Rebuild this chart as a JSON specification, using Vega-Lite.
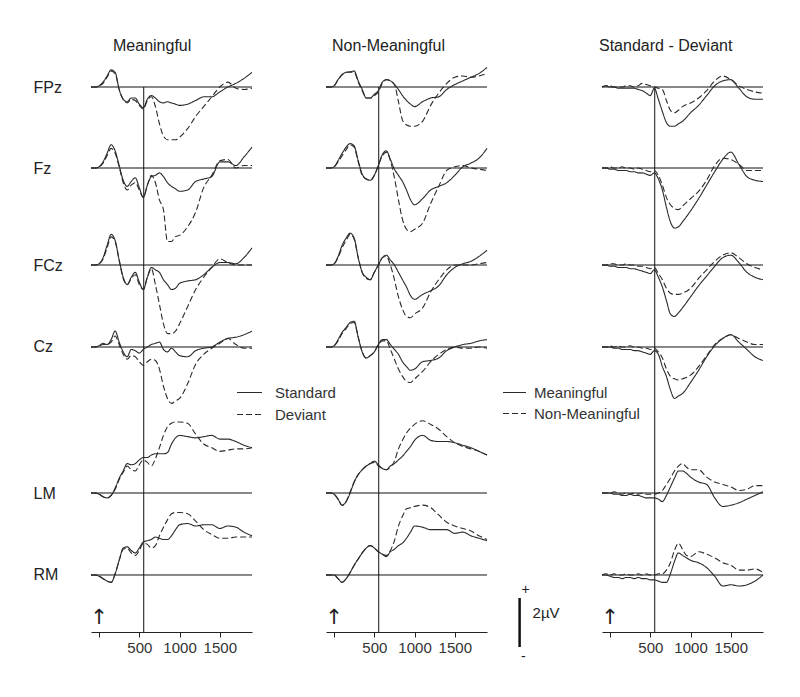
{
"$schema":"https://vega.github.io/schema/vega-lite/v6.json",
"padding":{"left":33,"top":38,"right":5,"bottom":5},
"background":"white",
"config":{"view":{"stroke":null},"font":"Liberation Sans","line":{"color":"#2a2a2a","strokeWidth":1.1,"interpolate":"monotone"},"rule":{"color":"#111"},
 "legend":{"title":null,"symbolType":"stroke","symbolStrokeWidth":1.1,"symbolStrokeColor":"#2a2a2a","labelFontSize":15,"labelColor":"#333","rowPadding":0},
 "axis":{"grid":false,"title":null}},
"datasets":{
"M_FPz":[{"t":-100,"Standard":0,"Deviant":0},{"t":-50,"Standard":0,"Deviant":0},{"t":0,"Standard":0.05,"Deviant":0.05},{"t":50,"Standard":0.2,"Deviant":0.15},{"t":100,"Standard":0.45,"Deviant":0.4},{"t":150,"Standard":0.7,"Deviant":0.65},{"t":200,"Standard":0.6,"Deviant":0.55},{"t":250,"Standard":-0.1,"Deviant":-0.1},{"t":300,"Standard":-0.5,"Deviant":-0.5},{"t":350,"Standard":-0.6,"Deviant":-0.65},{"t":400,"Standard":-0.45,"Deviant":-0.5},{"t":450,"Standard":-0.45,"Deviant":-0.55},{"t":500,"Standard":-0.7,"Deviant":-0.75},{"t":550,"Standard":-0.85,"Deviant":-0.9},{"t":600,"Standard":-0.5,"Deviant":-0.55},{"t":650,"Standard":-0.35,"Deviant":-0.4},{"t":700,"Standard":-0.45,"Deviant":-0.8},{"t":750,"Standard":-0.6,"Deviant":-1.5},{"t":800,"Standard":-0.65,"Deviant":-2.0},{"t":850,"Standard":-0.6,"Deviant":-2.15},{"t":900,"Standard":-0.65,"Deviant":-2.15},{"t":950,"Standard":-0.7,"Deviant":-2.15},{"t":1000,"Standard":-0.75,"Deviant":-2.05},{"t":1100,"Standard":-0.7,"Deviant":-1.7},{"t":1200,"Standard":-0.55,"Deviant":-1.2},{"t":1300,"Standard":-0.4,"Deviant":-0.8},{"t":1400,"Standard":-0.4,"Deviant":-0.4},{"t":1500,"Standard":-0.2,"Deviant":0.0},{"t":1600,"Standard":0.0,"Deviant":0.2},{"t":1700,"Standard":0.15,"Deviant":-0.05},{"t":1800,"Standard":0.35,"Deviant":-0.1},{"t":1900,"Standard":0.6,"Deviant":-0.05}],
"M_Fz":[{"t":-100,"Standard":0,"Deviant":0},{"t":-50,"Standard":0,"Deviant":0},{"t":0,"Standard":0.05,"Deviant":0.05},{"t":50,"Standard":0.25,"Deviant":0.2},{"t":100,"Standard":0.6,"Deviant":0.5},{"t":150,"Standard":0.95,"Deviant":0.8},{"t":200,"Standard":0.7,"Deviant":0.6},{"t":250,"Standard":0.1,"Deviant":0.05},{"t":300,"Standard":-0.5,"Deviant":-0.6},{"t":350,"Standard":-0.75,"Deviant":-0.9},{"t":400,"Standard":-0.55,"Deviant":-0.7},{"t":450,"Standard":-0.4,"Deviant":-0.6},{"t":500,"Standard":-0.8,"Deviant":-0.9},{"t":550,"Standard":-1.2,"Deviant":-1.2},{"t":600,"Standard":-0.7,"Deviant":-0.7},{"t":650,"Standard":-0.35,"Deviant":-0.3},{"t":700,"Standard":-0.3,"Deviant":-0.6},{"t":750,"Standard":-0.2,"Deviant":-1.3},{"t":800,"Standard":-0.35,"Deviant":-1.7},{"t":850,"Standard":-0.6,"Deviant":-3.0},{"t":900,"Standard":-0.75,"Deviant":-3.0},{"t":950,"Standard":-0.85,"Deviant":-2.8},{"t":1000,"Standard":-0.95,"Deviant":-2.75},{"t":1100,"Standard":-0.9,"Deviant":-2.4},{"t":1200,"Standard":-0.55,"Deviant":-1.8},{"t":1300,"Standard":-0.45,"Deviant":-0.8},{"t":1400,"Standard":-0.35,"Deviant":-0.3},{"t":1500,"Standard":0.25,"Deviant":0.3},{"t":1600,"Standard":0.25,"Deviant":0.35},{"t":1700,"Standard":0.1,"Deviant":0.0},{"t":1800,"Standard":0.45,"Deviant":0.1},{"t":1900,"Standard":0.85,"Deviant":0.1}],
"M_FCz":[{"t":-100,"Standard":0,"Deviant":0},{"t":-50,"Standard":0,"Deviant":0},{"t":0,"Standard":0.05,"Deviant":0.05},{"t":50,"Standard":0.3,"Deviant":0.25},{"t":100,"Standard":0.8,"Deviant":0.7},{"t":150,"Standard":1.25,"Deviant":1.15},{"t":200,"Standard":1.0,"Deviant":0.95},{"t":250,"Standard":0.2,"Deviant":0.2},{"t":300,"Standard":-0.5,"Deviant":-0.55},{"t":350,"Standard":-0.8,"Deviant":-0.8},{"t":400,"Standard":-0.5,"Deviant":-0.55},{"t":450,"Standard":-0.3,"Deviant":-0.4},{"t":500,"Standard":-0.7,"Deviant":-0.8},{"t":550,"Standard":-1.0,"Deviant":-1.0},{"t":600,"Standard":-0.5,"Deviant":-0.5},{"t":650,"Standard":-0.1,"Deviant":-0.15},{"t":700,"Standard":-0.2,"Deviant":-0.8},{"t":750,"Standard":-0.3,"Deviant":-1.6},{"t":800,"Standard":-0.6,"Deviant":-2.4},{"t":850,"Standard":-0.8,"Deviant":-2.8},{"t":900,"Standard":-1.0,"Deviant":-2.8},{"t":950,"Standard":-0.95,"Deviant":-2.7},{"t":1000,"Standard":-0.75,"Deviant":-2.4},{"t":1100,"Standard":-0.65,"Deviant":-1.7},{"t":1200,"Standard":-0.6,"Deviant":-1.0},{"t":1300,"Standard":-0.4,"Deviant":-0.5},{"t":1400,"Standard":-0.1,"Deviant":-0.1},{"t":1500,"Standard":0.1,"Deviant":0.25},{"t":1600,"Standard":0.1,"Deviant":0.1},{"t":1700,"Standard":0.05,"Deviant":0.0},{"t":1800,"Standard":0.3,"Deviant":0.0},{"t":1900,"Standard":0.7,"Deviant":0.0}],
"M_Cz":[{"t":-100,"Standard":0,"Deviant":0},{"t":-50,"Standard":0,"Deviant":0},{"t":0,"Standard":0.05,"Deviant":0.05},{"t":50,"Standard":0.15,"Deviant":0.1},{"t":100,"Standard":0.1,"Deviant":0.1},{"t":150,"Standard":0.3,"Deviant":0.2},{"t":200,"Standard":0.65,"Deviant":0.45},{"t":250,"Standard":0.2,"Deviant":0.1},{"t":300,"Standard":-0.2,"Deviant":-0.3},{"t":350,"Standard":-0.4,"Deviant":-0.5},{"t":400,"Standard":-0.1,"Deviant":-0.35},{"t":450,"Standard":-0.15,"Deviant":-0.4},{"t":500,"Standard":-0.25,"Deviant":-0.6},{"t":550,"Standard":-0.1,"Deviant":-0.75},{"t":600,"Standard":0.0,"Deviant":-0.6},{"t":650,"Standard":0.1,"Deviant":-0.5},{"t":700,"Standard":0.15,"Deviant":-0.55},{"t":750,"Standard":0.2,"Deviant":-0.9},{"t":800,"Standard":-0.1,"Deviant":-1.6},{"t":850,"Standard":-0.2,"Deviant":-2.1},{"t":900,"Standard":-0.05,"Deviant":-2.3},{"t":950,"Standard":-0.2,"Deviant":-2.2},{"t":1000,"Standard":-0.35,"Deviant":-2.1},{"t":1100,"Standard":-0.4,"Deviant":-1.5},{"t":1200,"Standard":-0.15,"Deviant":-0.7},{"t":1300,"Standard":-0.05,"Deviant":-0.3},{"t":1400,"Standard":0.0,"Deviant":-0.05},{"t":1500,"Standard":0.2,"Deviant":0.15},{"t":1600,"Standard":0.35,"Deviant":0.35},{"t":1700,"Standard":0.4,"Deviant":0.1},{"t":1800,"Standard":0.5,"Deviant":-0.05},{"t":1900,"Standard":0.65,"Deviant":-0.05}],
"M_LM":[{"t":-100,"Standard":0,"Deviant":0},{"t":-50,"Standard":0,"Deviant":0},{"t":0,"Standard":-0.05,"Deviant":-0.05},{"t":50,"Standard":-0.15,"Deviant":-0.15},{"t":100,"Standard":-0.2,"Deviant":-0.2},{"t":150,"Standard":-0.1,"Deviant":-0.1},{"t":200,"Standard":0.2,"Deviant":0.15},{"t":250,"Standard":0.6,"Deviant":0.55},{"t":300,"Standard":0.9,"Deviant":0.85},{"t":350,"Standard":1.2,"Deviant":1.1},{"t":400,"Standard":1.15,"Deviant":0.95},{"t":450,"Standard":1.2,"Deviant":0.9},{"t":500,"Standard":1.35,"Deviant":1.15},{"t":550,"Standard":1.45,"Deviant":1.35},{"t":600,"Standard":1.45,"Deviant":1.25},{"t":650,"Standard":1.55,"Deviant":1.1},{"t":700,"Standard":1.6,"Deviant":1.4},{"t":750,"Standard":1.6,"Deviant":1.85},{"t":800,"Standard":1.6,"Deviant":2.35},{"t":850,"Standard":1.65,"Deviant":2.7},{"t":900,"Standard":2.0,"Deviant":2.85},{"t":950,"Standard":2.25,"Deviant":2.9},{"t":1000,"Standard":2.35,"Deviant":2.9},{"t":1100,"Standard":2.3,"Deviant":2.85},{"t":1200,"Standard":2.25,"Deviant":2.4},{"t":1300,"Standard":2.3,"Deviant":2.0},{"t":1400,"Standard":2.35,"Deviant":1.85},{"t":1500,"Standard":2.2,"Deviant":1.7},{"t":1600,"Standard":2.2,"Deviant":1.75},{"t":1700,"Standard":2.1,"Deviant":1.8},{"t":1800,"Standard":1.95,"Deviant":1.8},{"t":1900,"Standard":1.85,"Deviant":1.85}],
"M_RM":[{"t":-100,"Standard":0,"Deviant":0},{"t":-50,"Standard":0,"Deviant":0},{"t":0,"Standard":-0.05,"Deviant":-0.05},{"t":50,"Standard":-0.15,"Deviant":-0.15},{"t":100,"Standard":-0.25,"Deviant":-0.25},{"t":150,"Standard":-0.3,"Deviant":-0.3},{"t":200,"Standard":0.05,"Deviant":0.05},{"t":250,"Standard":0.6,"Deviant":0.6},{"t":300,"Standard":1.1,"Deviant":1.05},{"t":350,"Standard":1.15,"Deviant":1.1},{"t":400,"Standard":1.0,"Deviant":0.9},{"t":450,"Standard":0.9,"Deviant":0.8},{"t":500,"Standard":1.1,"Deviant":1.0},{"t":550,"Standard":1.35,"Deviant":1.3},{"t":600,"Standard":1.4,"Deviant":1.25},{"t":650,"Standard":1.45,"Deviant":1.1},{"t":700,"Standard":1.55,"Deviant":1.2},{"t":750,"Standard":1.5,"Deviant":1.6},{"t":800,"Standard":1.45,"Deviant":1.95},{"t":850,"Standard":1.45,"Deviant":2.25},{"t":900,"Standard":1.6,"Deviant":2.5},{"t":950,"Standard":1.85,"Deviant":2.55},{"t":1000,"Standard":2.05,"Deviant":2.55},{"t":1100,"Standard":2.1,"Deviant":2.5},{"t":1200,"Standard":2.0,"Deviant":2.2},{"t":1300,"Standard":2.05,"Deviant":1.85},{"t":1400,"Standard":2.05,"Deviant":1.65},{"t":1500,"Standard":1.9,"Deviant":1.5},{"t":1600,"Standard":2.0,"Deviant":1.5},{"t":1700,"Standard":1.95,"Deviant":1.55},{"t":1800,"Standard":1.75,"Deviant":1.55},{"t":1900,"Standard":1.6,"Deviant":1.55}],
"N_FPz":[{"t":-100,"Standard":0,"Deviant":0},{"t":-50,"Standard":0,"Deviant":0},{"t":0,"Standard":0.05,"Deviant":0.05},{"t":50,"Standard":0.3,"Deviant":0.3},{"t":100,"Standard":0.5,"Deviant":0.5},{"t":150,"Standard":0.6,"Deviant":0.6},{"t":200,"Standard":0.62,"Deviant":0.6},{"t":250,"Standard":0.65,"Deviant":0.6},{"t":300,"Standard":0.25,"Deviant":0.2},{"t":350,"Standard":-0.1,"Deviant":-0.15},{"t":400,"Standard":-0.45,"Deviant":-0.45},{"t":450,"Standard":-0.45,"Deviant":-0.45},{"t":500,"Standard":-0.3,"Deviant":-0.35},{"t":550,"Standard":-0.15,"Deviant":-0.2},{"t":600,"Standard":0.2,"Deviant":0.15},{"t":650,"Standard":0.3,"Deviant":0.3},{"t":700,"Standard":0.25,"Deviant":0.25},{"t":750,"Standard":0.1,"Deviant":0.1},{"t":800,"Standard":-0.1,"Deviant":-0.6},{"t":850,"Standard":-0.35,"Deviant":-1.35},{"t":900,"Standard":-0.55,"Deviant":-1.55},{"t":950,"Standard":-0.7,"Deviant":-1.6},{"t":1000,"Standard":-0.8,"Deviant":-1.6},{"t":1100,"Standard":-0.6,"Deviant":-1.4},{"t":1200,"Standard":-0.45,"Deviant":-0.75},{"t":1300,"Standard":-0.4,"Deviant":-0.25},{"t":1400,"Standard":-0.1,"Deviant":0.15},{"t":1500,"Standard":0.1,"Deviant":0.4},{"t":1600,"Standard":0.25,"Deviant":0.45},{"t":1700,"Standard":0.4,"Deviant":0.4},{"t":1800,"Standard":0.55,"Deviant":0.45},{"t":1900,"Standard":0.8,"Deviant":0.55}],
"N_Fz":[{"t":-100,"Standard":0,"Deviant":0},{"t":-50,"Standard":0,"Deviant":0},{"t":0,"Standard":0.05,"Deviant":0.05},{"t":50,"Standard":0.3,"Deviant":0.25},{"t":100,"Standard":0.6,"Deviant":0.5},{"t":150,"Standard":0.85,"Deviant":0.75},{"t":200,"Standard":1.0,"Deviant":0.95},{"t":250,"Standard":0.9,"Deviant":0.85},{"t":300,"Standard":0.3,"Deviant":0.25},{"t":350,"Standard":-0.25,"Deviant":-0.3},{"t":400,"Standard":-0.45,"Deviant":-0.45},{"t":450,"Standard":-0.5,"Deviant":-0.5},{"t":500,"Standard":-0.3,"Deviant":-0.3},{"t":550,"Standard":0.1,"Deviant":0.1},{"t":600,"Standard":0.55,"Deviant":0.5},{"t":650,"Standard":0.7,"Deviant":0.65},{"t":700,"Standard":0.35,"Deviant":0.3},{"t":750,"Standard":-0.05,"Deviant":-0.4},{"t":800,"Standard":-0.3,"Deviant":-1.3},{"t":850,"Standard":-0.55,"Deviant":-2.1},{"t":900,"Standard":-0.9,"Deviant":-2.5},{"t":950,"Standard":-1.3,"Deviant":-2.6},{"t":1000,"Standard":-1.5,"Deviant":-2.5},{"t":1100,"Standard":-1.25,"Deviant":-2.25},{"t":1200,"Standard":-0.9,"Deviant":-1.45},{"t":1300,"Standard":-0.75,"Deviant":-0.75},{"t":1400,"Standard":-0.6,"Deviant":-0.1},{"t":1500,"Standard":-0.3,"Deviant":0.05},{"t":1600,"Standard":0.05,"Deviant":0.1},{"t":1700,"Standard":0.2,"Deviant":0.0},{"t":1800,"Standard":0.4,"Deviant":-0.05},{"t":1900,"Standard":0.8,"Deviant":-0.1}],
"N_FCz":[{"t":-100,"Standard":0,"Deviant":0},{"t":-50,"Standard":0,"Deviant":0},{"t":0,"Standard":0.05,"Deviant":0.05},{"t":50,"Standard":0.35,"Deviant":0.3},{"t":100,"Standard":0.8,"Deviant":0.7},{"t":150,"Standard":1.1,"Deviant":1.0},{"t":200,"Standard":1.3,"Deviant":1.25},{"t":250,"Standard":1.1,"Deviant":1.05},{"t":300,"Standard":0.3,"Deviant":0.3},{"t":350,"Standard":-0.3,"Deviant":-0.3},{"t":400,"Standard":-0.5,"Deviant":-0.55},{"t":450,"Standard":-0.6,"Deviant":-0.6},{"t":500,"Standard":-0.3,"Deviant":-0.3},{"t":550,"Standard":0.0,"Deviant":0.0},{"t":600,"Standard":0.3,"Deviant":0.3},{"t":650,"Standard":0.4,"Deviant":0.35},{"t":700,"Standard":0.2,"Deviant":0.0},{"t":750,"Standard":0.0,"Deviant":-0.6},{"t":800,"Standard":-0.3,"Deviant":-1.3},{"t":850,"Standard":-0.6,"Deviant":-1.8},{"t":900,"Standard":-0.9,"Deviant":-2.1},{"t":950,"Standard":-1.25,"Deviant":-2.15},{"t":1000,"Standard":-1.4,"Deviant":-2.0},{"t":1100,"Standard":-1.2,"Deviant":-1.75},{"t":1200,"Standard":-1.05,"Deviant":-1.1},{"t":1300,"Standard":-0.85,"Deviant":-0.6},{"t":1400,"Standard":-0.4,"Deviant":-0.2},{"t":1500,"Standard":-0.1,"Deviant":0.0},{"t":1600,"Standard":0.05,"Deviant":0.0},{"t":1700,"Standard":0.15,"Deviant":0.0},{"t":1800,"Standard":0.35,"Deviant":0.05},{"t":1900,"Standard":0.6,"Deviant":0.1}],
"N_Cz":[{"t":-100,"Standard":0,"Deviant":0},{"t":-50,"Standard":0,"Deviant":0},{"t":0,"Standard":0.05,"Deviant":0.05},{"t":50,"Standard":0.3,"Deviant":0.25},{"t":100,"Standard":0.6,"Deviant":0.55},{"t":150,"Standard":0.8,"Deviant":0.75},{"t":200,"Standard":1.0,"Deviant":0.95},{"t":250,"Standard":1.05,"Deviant":1.0},{"t":300,"Standard":0.4,"Deviant":0.4},{"t":350,"Standard":-0.2,"Deviant":-0.2},{"t":400,"Standard":-0.45,"Deviant":-0.45},{"t":450,"Standard":-0.35,"Deviant":-0.35},{"t":500,"Standard":-0.2,"Deviant":-0.2},{"t":550,"Standard":0.1,"Deviant":0.1},{"t":600,"Standard":0.3,"Deviant":0.25},{"t":650,"Standard":0.3,"Deviant":0.25},{"t":700,"Standard":0.1,"Deviant":-0.1},{"t":750,"Standard":-0.1,"Deviant":-0.5},{"t":800,"Standard":-0.3,"Deviant":-0.9},{"t":850,"Standard":-0.6,"Deviant":-1.2},{"t":900,"Standard":-0.8,"Deviant":-1.4},{"t":950,"Standard":-0.95,"Deviant":-1.45},{"t":1000,"Standard":-0.9,"Deviant":-1.3},{"t":1100,"Standard":-0.6,"Deviant":-1.0},{"t":1200,"Standard":-0.55,"Deviant":-0.6},{"t":1300,"Standard":-0.45,"Deviant":-0.3},{"t":1400,"Standard":-0.15,"Deviant":-0.1},{"t":1500,"Standard":0.0,"Deviant":0.0},{"t":1600,"Standard":0.1,"Deviant":-0.05},{"t":1700,"Standard":0.15,"Deviant":-0.05},{"t":1800,"Standard":0.25,"Deviant":0.0},{"t":1900,"Standard":0.3,"Deviant":-0.05}],
"N_LM":[{"t":-100,"Standard":0,"Deviant":0},{"t":-50,"Standard":0,"Deviant":0},{"t":0,"Standard":-0.05,"Deviant":-0.05},{"t":50,"Standard":-0.25,"Deviant":-0.25},{"t":100,"Standard":-0.5,"Deviant":-0.5},{"t":150,"Standard":-0.35,"Deviant":-0.35},{"t":200,"Standard":0.0,"Deviant":0.05},{"t":250,"Standard":0.45,"Deviant":0.45},{"t":300,"Standard":0.75,"Deviant":0.75},{"t":350,"Standard":0.95,"Deviant":0.95},{"t":400,"Standard":1.1,"Deviant":1.1},{"t":450,"Standard":1.2,"Deviant":1.2},{"t":500,"Standard":1.3,"Deviant":1.25},{"t":550,"Standard":1.15,"Deviant":1.1},{"t":600,"Standard":1.0,"Deviant":1.0},{"t":650,"Standard":0.95,"Deviant":0.95},{"t":700,"Standard":1.1,"Deviant":1.05},{"t":750,"Standard":1.2,"Deviant":1.3},{"t":800,"Standard":1.35,"Deviant":1.8},{"t":850,"Standard":1.5,"Deviant":2.15},{"t":900,"Standard":1.7,"Deviant":2.45},{"t":950,"Standard":1.9,"Deviant":2.65},{"t":1000,"Standard":2.15,"Deviant":2.8},{"t":1100,"Standard":2.35,"Deviant":2.95},{"t":1200,"Standard":2.15,"Deviant":2.8},{"t":1300,"Standard":2.1,"Deviant":2.6},{"t":1400,"Standard":2.1,"Deviant":2.3},{"t":1500,"Standard":2.05,"Deviant":2.05},{"t":1600,"Standard":1.95,"Deviant":1.9},{"t":1700,"Standard":1.85,"Deviant":1.8},{"t":1800,"Standard":1.7,"Deviant":1.7},{"t":1900,"Standard":1.55,"Deviant":1.55}],
"N_RM":[{"t":-100,"Standard":0,"Deviant":0},{"t":-50,"Standard":0,"Deviant":0},{"t":0,"Standard":0,"Deviant":0},{"t":50,"Standard":-0.15,"Deviant":-0.15},{"t":100,"Standard":-0.3,"Deviant":-0.3},{"t":150,"Standard":-0.15,"Deviant":-0.15},{"t":200,"Standard":0.1,"Deviant":0.1},{"t":250,"Standard":0.4,"Deviant":0.4},{"t":300,"Standard":0.65,"Deviant":0.65},{"t":350,"Standard":0.9,"Deviant":0.9},{"t":400,"Standard":1.1,"Deviant":1.1},{"t":450,"Standard":1.2,"Deviant":1.2},{"t":500,"Standard":1.1,"Deviant":1.1},{"t":550,"Standard":0.95,"Deviant":0.95},{"t":600,"Standard":0.85,"Deviant":0.85},{"t":650,"Standard":0.75,"Deviant":0.8},{"t":700,"Standard":0.95,"Deviant":1.0},{"t":750,"Standard":1.05,"Deviant":1.4},{"t":800,"Standard":1.2,"Deviant":2.0},{"t":850,"Standard":1.3,"Deviant":2.4},{"t":900,"Standard":1.5,"Deviant":2.7},{"t":950,"Standard":1.75,"Deviant":2.75},{"t":1000,"Standard":2.0,"Deviant":2.8},{"t":1100,"Standard":1.95,"Deviant":2.85},{"t":1200,"Standard":1.85,"Deviant":2.75},{"t":1300,"Standard":1.85,"Deviant":2.45},{"t":1400,"Standard":1.85,"Deviant":2.15},{"t":1500,"Standard":1.7,"Deviant":2.0},{"t":1600,"Standard":1.75,"Deviant":1.9},{"t":1700,"Standard":1.6,"Deviant":1.8},{"t":1800,"Standard":1.5,"Deviant":1.6},{"t":1900,"Standard":1.4,"Deviant":1.45}],
"D_FPz":[{"t":-100,"Meaningful":0,"Non-Meaningful":0},{"t":-50,"Meaningful":0.05,"Non-Meaningful":0.05},{"t":0,"Meaningful":0.0,"Non-Meaningful":0.05},{"t":50,"Meaningful":0.0,"Non-Meaningful":0.0},{"t":100,"Meaningful":-0.05,"Non-Meaningful":0.0},{"t":150,"Meaningful":-0.05,"Non-Meaningful":0.0},{"t":200,"Meaningful":-0.05,"Non-Meaningful":0.05},{"t":250,"Meaningful":-0.05,"Non-Meaningful":0.05},{"t":300,"Meaningful":-0.05,"Non-Meaningful":0.0},{"t":350,"Meaningful":-0.1,"Non-Meaningful":0.05},{"t":400,"Meaningful":-0.15,"Non-Meaningful":0.15},{"t":450,"Meaningful":-0.25,"Non-Meaningful":0.1},{"t":500,"Meaningful":-0.35,"Non-Meaningful":0.05},{"t":550,"Meaningful":-0.05,"Non-Meaningful":0.0},{"t":600,"Meaningful":-0.5,"Non-Meaningful":-0.05},{"t":650,"Meaningful":-1.0,"Non-Meaningful":-0.1},{"t":700,"Meaningful":-1.45,"Non-Meaningful":-0.55},{"t":750,"Meaningful":-1.6,"Non-Meaningful":-0.95},{"t":800,"Meaningful":-1.6,"Non-Meaningful":-1.05},{"t":850,"Meaningful":-1.5,"Non-Meaningful":-0.95},{"t":900,"Meaningful":-1.4,"Non-Meaningful":-0.8},{"t":1000,"Meaningful":-1.05,"Non-Meaningful":-0.65},{"t":1100,"Meaningful":-0.75,"Non-Meaningful":-0.45},{"t":1200,"Meaningful":-0.35,"Non-Meaningful":-0.15},{"t":1300,"Meaningful":0.05,"Non-Meaningful":0.25},{"t":1400,"Meaningful":0.25,"Non-Meaningful":0.45},{"t":1500,"Meaningful":0.3,"Non-Meaningful":0.3},{"t":1600,"Meaningful":-0.05,"Non-Meaningful":0.05},{"t":1700,"Meaningful":-0.4,"Non-Meaningful":-0.1},{"t":1800,"Meaningful":-0.5,"Non-Meaningful":-0.2},{"t":1900,"Meaningful":-0.5,"Non-Meaningful":-0.25}],
"D_Fz":[{"t":-100,"Meaningful":0,"Non-Meaningful":0},{"t":-50,"Meaningful":0,"Non-Meaningful":0},{"t":0,"Meaningful":-0.05,"Non-Meaningful":0.05},{"t":50,"Meaningful":-0.05,"Non-Meaningful":0.0},{"t":100,"Meaningful":-0.1,"Non-Meaningful":0.0},{"t":150,"Meaningful":-0.1,"Non-Meaningful":0.05},{"t":200,"Meaningful":-0.1,"Non-Meaningful":0.0},{"t":250,"Meaningful":-0.15,"Non-Meaningful":0.0},{"t":300,"Meaningful":-0.15,"Non-Meaningful":-0.05},{"t":350,"Meaningful":-0.2,"Non-Meaningful":0.0},{"t":400,"Meaningful":-0.2,"Non-Meaningful":-0.05},{"t":450,"Meaningful":-0.25,"Non-Meaningful":-0.1},{"t":500,"Meaningful":-0.3,"Non-Meaningful":-0.15},{"t":550,"Meaningful":-0.2,"Non-Meaningful":-0.1},{"t":600,"Meaningful":-0.45,"Non-Meaningful":-0.3},{"t":650,"Meaningful":-0.9,"Non-Meaningful":-0.7},{"t":700,"Meaningful":-1.6,"Non-Meaningful":-1.2},{"t":750,"Meaningful":-2.2,"Non-Meaningful":-1.5},{"t":800,"Meaningful":-2.45,"Non-Meaningful":-1.65},{"t":850,"Meaningful":-2.4,"Non-Meaningful":-1.7},{"t":900,"Meaningful":-2.2,"Non-Meaningful":-1.55},{"t":1000,"Meaningful":-1.75,"Non-Meaningful":-1.25},{"t":1100,"Meaningful":-1.25,"Non-Meaningful":-0.95},{"t":1200,"Meaningful":-0.7,"Non-Meaningful":-0.5},{"t":1300,"Meaningful":-0.15,"Non-Meaningful":0.1},{"t":1400,"Meaningful":0.35,"Non-Meaningful":0.4},{"t":1500,"Meaningful":0.65,"Non-Meaningful":0.35},{"t":1600,"Meaningful":0.15,"Non-Meaningful":0.15},{"t":1700,"Meaningful":-0.35,"Non-Meaningful":-0.1},{"t":1800,"Meaningful":-0.5,"Non-Meaningful":-0.1},{"t":1900,"Meaningful":-0.55,"Non-Meaningful":-0.1}],
"D_FCz":[{"t":-100,"Meaningful":0,"Non-Meaningful":0},{"t":-50,"Meaningful":0,"Non-Meaningful":0},{"t":0,"Meaningful":-0.05,"Non-Meaningful":0.05},{"t":50,"Meaningful":-0.05,"Non-Meaningful":0.05},{"t":100,"Meaningful":-0.1,"Non-Meaningful":0.0},{"t":150,"Meaningful":-0.1,"Non-Meaningful":0.0},{"t":200,"Meaningful":-0.1,"Non-Meaningful":0.05},{"t":250,"Meaningful":-0.15,"Non-Meaningful":0.0},{"t":300,"Meaningful":-0.15,"Non-Meaningful":0.0},{"t":350,"Meaningful":-0.2,"Non-Meaningful":-0.05},{"t":400,"Meaningful":-0.25,"Non-Meaningful":-0.05},{"t":450,"Meaningful":-0.3,"Non-Meaningful":-0.1},{"t":500,"Meaningful":-0.35,"Non-Meaningful":-0.15},{"t":550,"Meaningful":-0.2,"Non-Meaningful":-0.1},{"t":600,"Meaningful":-0.5,"Non-Meaningful":-0.35},{"t":650,"Meaningful":-0.9,"Non-Meaningful":-0.6},{"t":700,"Meaningful":-1.45,"Non-Meaningful":-0.95},{"t":750,"Meaningful":-2.0,"Non-Meaningful":-1.15},{"t":800,"Meaningful":-2.1,"Non-Meaningful":-1.2},{"t":850,"Meaningful":-1.95,"Non-Meaningful":-1.2},{"t":900,"Meaningful":-1.75,"Non-Meaningful":-1.15},{"t":1000,"Meaningful":-1.3,"Non-Meaningful":-0.95},{"t":1100,"Meaningful":-0.85,"Non-Meaningful":-0.55},{"t":1200,"Meaningful":-0.45,"Non-Meaningful":-0.2},{"t":1300,"Meaningful":-0.05,"Non-Meaningful":0.15},{"t":1400,"Meaningful":0.3,"Non-Meaningful":0.4},{"t":1500,"Meaningful":0.4,"Non-Meaningful":0.5},{"t":1600,"Meaningful":0.1,"Non-Meaningful":0.3},{"t":1700,"Meaningful":-0.3,"Non-Meaningful":0.05},{"t":1800,"Meaningful":-0.5,"Non-Meaningful":-0.1},{"t":1900,"Meaningful":-0.6,"Non-Meaningful":-0.2}],
"D_Cz":[{"t":-100,"Meaningful":0,"Non-Meaningful":0},{"t":-50,"Meaningful":0,"Non-Meaningful":0},{"t":0,"Meaningful":0,"Non-Meaningful":0.05},{"t":50,"Meaningful":-0.05,"Non-Meaningful":0},{"t":100,"Meaningful":-0.05,"Non-Meaningful":0.05},{"t":150,"Meaningful":-0.1,"Non-Meaningful":0},{"t":200,"Meaningful":-0.1,"Non-Meaningful":0},{"t":250,"Meaningful":-0.1,"Non-Meaningful":0.05},{"t":300,"Meaningful":-0.15,"Non-Meaningful":0},{"t":350,"Meaningful":-0.15,"Non-Meaningful":0},{"t":400,"Meaningful":-0.2,"Non-Meaningful":-0.05},{"t":450,"Meaningful":-0.25,"Non-Meaningful":-0.05},{"t":500,"Meaningful":-0.3,"Non-Meaningful":-0.1},{"t":550,"Meaningful":-0.15,"Non-Meaningful":-0.05},{"t":600,"Meaningful":-0.3,"Non-Meaningful":-0.2},{"t":650,"Meaningful":-0.8,"Non-Meaningful":-0.45},{"t":700,"Meaningful":-1.2,"Non-Meaningful":-0.9},{"t":750,"Meaningful":-1.75,"Non-Meaningful":-1.2},{"t":800,"Meaningful":-2.1,"Non-Meaningful":-1.3},{"t":850,"Meaningful":-2.0,"Non-Meaningful":-1.35},{"t":900,"Meaningful":-1.9,"Non-Meaningful":-1.3},{"t":1000,"Meaningful":-1.45,"Non-Meaningful":-1.15},{"t":1100,"Meaningful":-0.95,"Non-Meaningful":-0.8},{"t":1200,"Meaningful":-0.4,"Non-Meaningful":-0.35},{"t":1300,"Meaningful":0.05,"Non-Meaningful":0.1},{"t":1400,"Meaningful":0.35,"Non-Meaningful":0.35},{"t":1500,"Meaningful":0.5,"Non-Meaningful":0.5},{"t":1600,"Meaningful":0.2,"Non-Meaningful":0.35},{"t":1700,"Meaningful":-0.1,"Non-Meaningful":0.2},{"t":1800,"Meaningful":-0.4,"Non-Meaningful":0.1},{"t":1900,"Meaningful":-0.55,"Non-Meaningful":0.1}],
"D_LM":[{"t":-100,"Meaningful":0,"Non-Meaningful":0},{"t":-50,"Meaningful":0,"Non-Meaningful":0},{"t":0,"Meaningful":0,"Non-Meaningful":0},{"t":50,"Meaningful":-0.05,"Non-Meaningful":0.05},{"t":100,"Meaningful":-0.05,"Non-Meaningful":0},{"t":150,"Meaningful":-0.1,"Non-Meaningful":-0.05},{"t":200,"Meaningful":-0.1,"Non-Meaningful":0},{"t":250,"Meaningful":-0.05,"Non-Meaningful":-0.05},{"t":300,"Meaningful":-0.1,"Non-Meaningful":0},{"t":350,"Meaningful":-0.1,"Non-Meaningful":-0.05},{"t":400,"Meaningful":-0.15,"Non-Meaningful":0},{"t":450,"Meaningful":-0.2,"Non-Meaningful":-0.05},{"t":500,"Meaningful":-0.2,"Non-Meaningful":-0.05},{"t":550,"Meaningful":-0.2,"Non-Meaningful":-0.05},{"t":600,"Meaningful":-0.25,"Non-Meaningful":0},{"t":650,"Meaningful":-0.35,"Non-Meaningful":0.1},{"t":700,"Meaningful":-0.1,"Non-Meaningful":0.35},{"t":750,"Meaningful":0.25,"Non-Meaningful":0.6},{"t":800,"Meaningful":0.6,"Non-Meaningful":0.9},{"t":850,"Meaningful":0.9,"Non-Meaningful":1.1},{"t":900,"Meaningful":0.9,"Non-Meaningful":1.2},{"t":950,"Meaningful":0.8,"Non-Meaningful":1.05},{"t":1000,"Meaningful":0.65,"Non-Meaningful":0.95},{"t":1100,"Meaningful":0.45,"Non-Meaningful":0.95},{"t":1200,"Meaningful":0.35,"Non-Meaningful":0.65},{"t":1300,"Meaningful":-0.2,"Non-Meaningful":0.45},{"t":1400,"Meaningful":-0.55,"Non-Meaningful":0.35},{"t":1500,"Meaningful":-0.5,"Non-Meaningful":0.25},{"t":1600,"Meaningful":-0.4,"Non-Meaningful":0.1},{"t":1700,"Meaningful":-0.25,"Non-Meaningful":0.15},{"t":1800,"Meaningful":-0.1,"Non-Meaningful":0.3},{"t":1900,"Meaningful":0.05,"Non-Meaningful":0.3}],
"D_RM":[{"t":-100,"Meaningful":0,"Non-Meaningful":0},{"t":-50,"Meaningful":0,"Non-Meaningful":0.05},{"t":0,"Meaningful":-0.05,"Non-Meaningful":0},{"t":50,"Meaningful":-0.1,"Non-Meaningful":0.05},{"t":100,"Meaningful":-0.1,"Non-Meaningful":0},{"t":150,"Meaningful":-0.15,"Non-Meaningful":0},{"t":200,"Meaningful":-0.1,"Non-Meaningful":0.05},{"t":250,"Meaningful":-0.1,"Non-Meaningful":0},{"t":300,"Meaningful":-0.15,"Non-Meaningful":0},{"t":350,"Meaningful":-0.1,"Non-Meaningful":0.05},{"t":400,"Meaningful":-0.15,"Non-Meaningful":0},{"t":450,"Meaningful":-0.15,"Non-Meaningful":0.05},{"t":500,"Meaningful":-0.2,"Non-Meaningful":0},{"t":550,"Meaningful":-0.2,"Non-Meaningful":0},{"t":600,"Meaningful":-0.25,"Non-Meaningful":0.05},{"t":650,"Meaningful":-0.3,"Non-Meaningful":0.05},{"t":700,"Meaningful":-0.3,"Non-Meaningful":0.2},{"t":750,"Meaningful":0.05,"Non-Meaningful":0.5},{"t":800,"Meaningful":0.55,"Non-Meaningful":1.0},{"t":850,"Meaningful":0.9,"Non-Meaningful":1.3},{"t":900,"Meaningful":0.8,"Non-Meaningful":1.05},{"t":950,"Meaningful":0.7,"Non-Meaningful":0.8},{"t":1000,"Meaningful":0.6,"Non-Meaningful":0.75},{"t":1100,"Meaningful":0.5,"Non-Meaningful":0.95},{"t":1200,"Meaningful":0.3,"Non-Meaningful":0.85},{"t":1300,"Meaningful":-0.05,"Non-Meaningful":0.7},{"t":1400,"Meaningful":-0.45,"Non-Meaningful":0.5},{"t":1500,"Meaningful":-0.4,"Non-Meaningful":0.4},{"t":1600,"Meaningful":-0.45,"Non-Meaningful":0.2},{"t":1700,"Meaningful":-0.4,"Non-Meaningful":0.2},{"t":1800,"Meaningful":-0.25,"Non-Meaningful":0.25},{"t":1900,"Meaningful":0.0,"Non-Meaningful":0.1}]
},
"columns":5,"spacing":0,"bounds":"flush",
"resolve":{"scale":{"strokeDash":"independent"},"legend":{"strokeDash":"independent"}},
"concat":[
 {"width":161,"height":68,"title":{"text":"Meaningful","anchor":"start","frame":"group","dx":22,"fontSize":16,"fontWeight":"normal","color":"#222","offset":6},
  "layer":[
  {"data":{"values":[{}]},"mark":"rule","encoding":{"y":{"datum":0}}},
  {"data":{"values":[{}]},"mark":"rule","encoding":{"x":{"datum":555},"y":{"datum":0},"y2":{"datum":-1.673}}},
  {"data":{"name":"M_FPz"},"transform":[{"fold":["Standard","Deviant"],"as":["cond","v"]}],"mark":"line",
   "encoding":{"x":{"field":"t","type":"quantitative","scale":{"domain":[-100,1900],"nice":false,"zero":false},"axis":null},
   "y":{"field":"v","type":"quantitative","scale":{"domain":[-1.673,1.102],"nice":false,"zero":false},"axis":{"values":[0],"labelExpr":"'FPz'","ticks":false,"tickSize":0,"domain":false,"labelAlign":"left","labelBaseline":"middle","labelPadding":58,"labelFontSize":16,"labelColor":"#222"}},
   "strokeDash":{"field":"cond","type":"nominal","scale":{"domain":["Standard","Deviant"],"range":[[1,0],[6,3]]},"legend":null}}}
 ]},
 {"width":74,"height":1,"data":{"values":[{}]},"mark":{"type":"point","opacity":0}},
 {"width":161,"height":68,"title":{"text":"Non-Meaningful","anchor":"start","frame":"group","dx":6,"fontSize":16,"fontWeight":"normal","color":"#222","offset":6},
  "layer":[
  {"data":{"values":[{}]},"mark":"rule","encoding":{"y":{"datum":0}}},
  {"data":{"values":[{}]},"mark":"rule","encoding":{"x":{"datum":555},"y":{"datum":0},"y2":{"datum":-1.673}}},
  {"data":{"name":"N_FPz"},"transform":[{"fold":["Standard","Deviant"],"as":["cond","v"]}],"mark":"line",
   "encoding":{"x":{"field":"t","type":"quantitative","scale":{"domain":[-100,1900],"nice":false,"zero":false},"axis":null},
   "y":{"field":"v","type":"quantitative","scale":{"domain":[-1.673,1.102],"nice":false,"zero":false},"axis":null},
   "strokeDash":{"field":"cond","type":"nominal","scale":{"domain":["Standard","Deviant"],"range":[[1,0],[6,3]]},"legend":null}}}
 ]},
 {"width":115,"height":1,"data":{"values":[{}]},"mark":{"type":"point","opacity":0}},
 {"width":161,"height":68,"title":{"text":"Standard - Deviant","anchor":"start","frame":"group","dx":-3,"fontSize":16,"fontWeight":"normal","color":"#222","offset":6},
  "layer":[
  {"data":{"values":[{}]},"mark":"rule","encoding":{"y":{"datum":0}}},
  {"data":{"values":[{}]},"mark":"rule","encoding":{"x":{"datum":555},"y":{"datum":0},"y2":{"datum":-1.673}}},
  {"data":{"name":"D_FPz"},"transform":[{"fold":["Meaningful","Non-Meaningful"],"as":["cond","v"]}],"mark":"line",
   "encoding":{"x":{"field":"t","type":"quantitative","scale":{"domain":[-100,1900],"nice":false,"zero":false},"axis":null},
   "y":{"field":"v","type":"quantitative","scale":{"domain":[-1.673,1.102],"nice":false,"zero":false},"axis":null},
   "strokeDash":{"field":"cond","type":"nominal","scale":{"domain":["Meaningful","Non-Meaningful"],"range":[[1,0],[6,3]]},"legend":null}}}
 ]},

 {"width":161,"height":88,
  "layer":[
  {"data":{"values":[{}]},"mark":"rule","encoding":{"y":{"datum":0}}},
  {"data":{"values":[{}]},"mark":"rule","encoding":{"x":{"datum":555}}},
  {"data":{"name":"M_Fz"},"transform":[{"fold":["Standard","Deviant"],"as":["cond","v"]}],"mark":"line",
   "encoding":{"x":{"field":"t","type":"quantitative","scale":{"domain":[-100,1900],"nice":false,"zero":false},"axis":null},
   "y":{"field":"v","type":"quantitative","scale":{"domain":[-1.959,1.633],"nice":false,"zero":false},"axis":{"values":[0],"labelExpr":"'Fz'","ticks":false,"tickSize":0,"domain":false,"labelAlign":"left","labelBaseline":"middle","labelPadding":58,"labelFontSize":16,"labelColor":"#222"}},
   "strokeDash":{"field":"cond","type":"nominal","scale":{"domain":["Standard","Deviant"],"range":[[1,0],[6,3]]},"legend":null}}}
 ]},
 {"width":74,"height":1,"data":{"values":[{}]},"mark":{"type":"point","opacity":0}},
 {"width":161,"height":88,
  "layer":[
  {"data":{"values":[{}]},"mark":"rule","encoding":{"y":{"datum":0}}},
  {"data":{"values":[{}]},"mark":"rule","encoding":{"x":{"datum":555}}},
  {"data":{"name":"N_Fz"},"transform":[{"fold":["Standard","Deviant"],"as":["cond","v"]}],"mark":"line",
   "encoding":{"x":{"field":"t","type":"quantitative","scale":{"domain":[-100,1900],"nice":false,"zero":false},"axis":null},
   "y":{"field":"v","type":"quantitative","scale":{"domain":[-1.959,1.633],"nice":false,"zero":false},"axis":null},
   "strokeDash":{"field":"cond","type":"nominal","scale":{"domain":["Standard","Deviant"],"range":[[1,0],[6,3]]},"legend":null}}}
 ]},
 {"width":115,"height":1,"data":{"values":[{}]},"mark":{"type":"point","opacity":0}},
 {"width":161,"height":88,
  "layer":[
  {"data":{"values":[{}]},"mark":"rule","encoding":{"y":{"datum":0}}},
  {"data":{"values":[{}]},"mark":"rule","encoding":{"x":{"datum":555}}},
  {"data":{"name":"D_Fz"},"transform":[{"fold":["Meaningful","Non-Meaningful"],"as":["cond","v"]}],"mark":"line",
   "encoding":{"x":{"field":"t","type":"quantitative","scale":{"domain":[-100,1900],"nice":false,"zero":false},"axis":null},
   "y":{"field":"v","type":"quantitative","scale":{"domain":[-1.959,1.633],"nice":false,"zero":false},"axis":null},
   "strokeDash":{"field":"cond","type":"nominal","scale":{"domain":["Meaningful","Non-Meaningful"],"range":[[1,0],[6,3]]},"legend":null}}}
 ]},

 {"width":161,"height":90,
  "layer":[
  {"data":{"values":[{}]},"mark":"rule","encoding":{"y":{"datum":0}}},
  {"data":{"values":[{}]},"mark":"rule","encoding":{"x":{"datum":555}}},
  {"data":{"name":"M_FCz"},"transform":[{"fold":["Standard","Deviant"],"as":["cond","v"]}],"mark":"line",
   "encoding":{"x":{"field":"t","type":"quantitative","scale":{"domain":[-100,1900],"nice":false,"zero":false},"axis":null},
   "y":{"field":"v","type":"quantitative","scale":{"domain":[-1.673,2.0],"nice":false,"zero":false},"axis":{"values":[0],"labelExpr":"'FCz'","ticks":false,"tickSize":0,"domain":false,"labelAlign":"left","labelBaseline":"middle","labelPadding":58,"labelFontSize":16,"labelColor":"#222"}},
   "strokeDash":{"field":"cond","type":"nominal","scale":{"domain":["Standard","Deviant"],"range":[[1,0],[6,3]]},"legend":null}}}
 ]},
 {"width":74,"height":1,"data":{"values":[{}]},"mark":{"type":"point","opacity":0}},
 {"width":161,"height":90,
  "layer":[
  {"data":{"values":[{}]},"mark":"rule","encoding":{"y":{"datum":0}}},
  {"data":{"values":[{}]},"mark":"rule","encoding":{"x":{"datum":555}}},
  {"data":{"name":"N_FCz"},"transform":[{"fold":["Standard","Deviant"],"as":["cond","v"]}],"mark":"line",
   "encoding":{"x":{"field":"t","type":"quantitative","scale":{"domain":[-100,1900],"nice":false,"zero":false},"axis":null},
   "y":{"field":"v","type":"quantitative","scale":{"domain":[-1.673,2.0],"nice":false,"zero":false},"axis":null},
   "strokeDash":{"field":"cond","type":"nominal","scale":{"domain":["Standard","Deviant"],"range":[[1,0],[6,3]]},"legend":null}}}
 ]},
 {"width":115,"height":1,"data":{"values":[{}]},"mark":{"type":"point","opacity":0}},
 {"width":161,"height":90,
  "layer":[
  {"data":{"values":[{}]},"mark":"rule","encoding":{"y":{"datum":0}}},
  {"data":{"values":[{}]},"mark":"rule","encoding":{"x":{"datum":555}}},
  {"data":{"name":"D_FCz"},"transform":[{"fold":["Meaningful","Non-Meaningful"],"as":["cond","v"]}],"mark":"line",
   "encoding":{"x":{"field":"t","type":"quantitative","scale":{"domain":[-100,1900],"nice":false,"zero":false},"axis":null},
   "y":{"field":"v","type":"quantitative","scale":{"domain":[-1.673,2.0],"nice":false,"zero":false},"axis":null},
   "strokeDash":{"field":"cond","type":"nominal","scale":{"domain":["Meaningful","Non-Meaningful"],"range":[[1,0],[6,3]]},"legend":null}}}
 ]},

 {"width":161,"height":134,
  "layer":[
  {"data":{"values":[{}]},"mark":"rule","encoding":{"y":{"datum":0}}},
  {"data":{"values":[{}]},"mark":"rule","encoding":{"x":{"datum":555}}},
  {"data":{"name":"M_Cz"},"transform":[{"fold":["Standard","Deviant"],"as":["cond","v"]}],"mark":"line",
   "encoding":{"x":{"field":"t","type":"quantitative","scale":{"domain":[-100,1900],"nice":false,"zero":false},"axis":null},
   "y":{"field":"v","type":"quantitative","scale":{"domain":[-3.796,1.673],"nice":false,"zero":false},"axis":{"values":[0],"labelExpr":"'Cz'","ticks":false,"tickSize":0,"domain":false,"labelAlign":"left","labelBaseline":"middle","labelPadding":58,"labelFontSize":16,"labelColor":"#222"}},
   "strokeDash":{"field":"cond","type":"nominal","scale":{"domain":["Standard","Deviant"],"range":[[1,0],[6,3]]},"legend":{"orient":"none","legendX":145,"legendY":73,"symbolSize":625,"labelOffset":12}}}}
 ]},
 {"width":74,"height":1,"data":{"values":[{}]},"mark":{"type":"point","opacity":0}},
 {"width":161,"height":134,
  "layer":[
  {"data":{"values":[{}]},"mark":"rule","encoding":{"y":{"datum":0}}},
  {"data":{"values":[{}]},"mark":"rule","encoding":{"x":{"datum":555}}},
  {"data":{"name":"N_Cz"},"transform":[{"fold":["Standard","Deviant"],"as":["cond","v"]}],"mark":"line",
   "encoding":{"x":{"field":"t","type":"quantitative","scale":{"domain":[-100,1900],"nice":false,"zero":false},"axis":null},
   "y":{"field":"v","type":"quantitative","scale":{"domain":[-3.796,1.673],"nice":false,"zero":false},"axis":null},
   "strokeDash":{"field":"cond","type":"nominal","scale":{"domain":["Standard","Deviant"],"range":[[1,0],[6,3]]},"legend":null}}}
 ]},
 {"width":115,"height":1,"data":{"values":[{}]},"mark":{"type":"point","opacity":0}},
 {"width":161,"height":134,
  "layer":[
  {"data":{"values":[{}]},"mark":"rule","encoding":{"y":{"datum":0}}},
  {"data":{"values":[{}]},"mark":"rule","encoding":{"x":{"datum":555}}},
  {"data":{"name":"D_Cz"},"transform":[{"fold":["Meaningful","Non-Meaningful"],"as":["cond","v"]}],"mark":"line",
   "encoding":{"x":{"field":"t","type":"quantitative","scale":{"domain":[-100,1900],"nice":false,"zero":false},"axis":null},
   "y":{"field":"v","type":"quantitative","scale":{"domain":[-3.796,1.673],"nice":false,"zero":false},"axis":null},
   "strokeDash":{"field":"cond","type":"nominal","scale":{"domain":["Meaningful","Non-Meaningful"],"range":[[1,0],[6,3]]},"legend":{"orient":"none","legendX":-100,"legendY":74,"symbolSize":529,"labelOffset":7}}}}
 ]},

 {"width":161,"height":94,
  "layer":[
  {"data":{"values":[{}]},"mark":"rule","encoding":{"y":{"datum":0}}},
  {"data":{"values":[{}]},"mark":"rule","encoding":{"x":{"datum":555}}},
  {"data":{"name":"M_LM"},"transform":[{"fold":["Standard","Deviant"],"as":["cond","v"]}],"mark":"line",
   "encoding":{"x":{"field":"t","type":"quantitative","scale":{"domain":[-100,1900],"nice":false,"zero":false},"axis":null},
   "y":{"field":"v","type":"quantitative","scale":{"domain":[-1.673,2.163],"nice":false,"zero":false},"axis":{"values":[0],"labelExpr":"'LM'","ticks":false,"tickSize":0,"domain":false,"labelAlign":"left","labelBaseline":"middle","labelPadding":58,"labelFontSize":16,"labelColor":"#222"}},
   "strokeDash":{"field":"cond","type":"nominal","scale":{"domain":["Standard","Deviant"],"range":[[1,0],[6,3]]},"legend":null}}}
 ]},
 {"width":74,"height":1,"data":{"values":[{}]},"mark":{"type":"point","opacity":0}},
 {"width":161,"height":94,
  "layer":[
  {"data":{"values":[{}]},"mark":"rule","encoding":{"y":{"datum":0}}},
  {"data":{"values":[{}]},"mark":"rule","encoding":{"x":{"datum":555}}},
  {"data":{"name":"N_LM"},"transform":[{"fold":["Standard","Deviant"],"as":["cond","v"]}],"mark":"line",
   "encoding":{"x":{"field":"t","type":"quantitative","scale":{"domain":[-100,1900],"nice":false,"zero":false},"axis":null},
   "y":{"field":"v","type":"quantitative","scale":{"domain":[-1.673,2.163],"nice":false,"zero":false},"axis":null},
   "strokeDash":{"field":"cond","type":"nominal","scale":{"domain":["Standard","Deviant"],"range":[[1,0],[6,3]]},"legend":null}}}
 ]},
 {"width":115,"height":1,"data":{"values":[{}]},"mark":{"type":"point","opacity":0}},
 {"width":161,"height":94,
  "layer":[
  {"data":{"values":[{}]},"mark":"rule","encoding":{"y":{"datum":0}}},
  {"data":{"values":[{}]},"mark":"rule","encoding":{"x":{"datum":555}}},
  {"data":{"name":"D_LM"},"transform":[{"fold":["Meaningful","Non-Meaningful"],"as":["cond","v"]}],"mark":"line",
   "encoding":{"x":{"field":"t","type":"quantitative","scale":{"domain":[-100,1900],"nice":false,"zero":false},"axis":null},
   "y":{"field":"v","type":"quantitative","scale":{"domain":[-1.673,2.163],"nice":false,"zero":false},"axis":null},
   "strokeDash":{"field":"cond","type":"nominal","scale":{"domain":["Meaningful","Non-Meaningful"],"range":[[1,0],[6,3]]},"legend":null}}}
 ]},

 {"width":161,"height":98,
  "layer":[
  {"data":{"values":[{}]},"mark":"rule","encoding":{"y":{"datum":0}}},
  {"data":{"values":[{}]},"mark":"rule","encoding":{"x":{"datum":555}}},
  {"data":{"values":[{}]},"mark":{"type":"text","text":"↑","fontSize":21,"color":"#222","font":"DejaVu Sans","fontWeight":"normal"},"encoding":{"x":{"datum":0},"y":{"datum":-1.75}}},
  {"data":{"name":"M_RM"},"transform":[{"fold":["Standard","Deviant"],"as":["cond","v"]}],"mark":"line",
   "encoding":{"x":{"field":"t","type":"quantitative","scale":{"domain":[-100,1900],"nice":false,"zero":false},"axis":{"values":[0,500,1000,1500],"format":"d","labelExpr":"datum.value == 0 ? '' : datum.label","tickSize":5,"domainColor":"#222","tickColor":"#222","labelFontSize":15,"labelColor":"#333","labelPadding":3}},
   "y":{"field":"v","type":"quantitative","scale":{"domain":[-2.327,1.673],"nice":false,"zero":false},"axis":{"values":[0],"labelExpr":"'RM'","ticks":false,"tickSize":0,"domain":false,"labelAlign":"left","labelBaseline":"middle","labelPadding":58,"labelFontSize":16,"labelColor":"#222"}},
   "strokeDash":{"field":"cond","type":"nominal","scale":{"domain":["Standard","Deviant"],"range":[[1,0],[6,3]]},"legend":null}}}
 ]},
 {"width":74,"height":1,"data":{"values":[{}]},"mark":{"type":"point","opacity":0}},
 {"width":161,"height":98,
  "layer":[
  {"data":{"values":[{}]},"mark":"rule","encoding":{"y":{"datum":0}}},
  {"data":{"values":[{}]},"mark":"rule","encoding":{"x":{"datum":555}}},
  {"data":{"values":[{}]},"mark":{"type":"text","text":"↑","fontSize":21,"color":"#222","font":"DejaVu Sans","fontWeight":"normal"},"encoding":{"x":{"datum":0},"y":{"datum":-1.75}}},
  {"data":{"values":[{}]},"mark":{"type":"rule","strokeWidth":2.5},"encoding":{"x":{"datum":2305},"y":{"datum":-0.94},"y2":{"datum":-2.94}}},
  {"data":{"values":[{}]},"mark":{"type":"text","text":"+","fontSize":14,"color":"#222"},"encoding":{"x":{"datum":2380},"y":{"datum":-0.6}}},
  {"data":{"values":[{}]},"mark":{"type":"text","text":"-","fontSize":14,"color":"#222"},"encoding":{"x":{"datum":2350},"y":{"datum":-3.35}}},
  {"data":{"values":[{}]},"mark":{"type":"text","text":"2µV","fontSize":15,"color":"#222","align":"left"},"encoding":{"x":{"datum":2466},"y":{"datum":-1.55}}},
  {"data":{"name":"N_RM"},"transform":[{"fold":["Standard","Deviant"],"as":["cond","v"]}],"mark":"line",
   "encoding":{"x":{"field":"t","type":"quantitative","scale":{"domain":[-100,1900],"nice":false,"zero":false},"axis":{"values":[0,500,1000,1500],"format":"d","labelExpr":"datum.value == 0 ? '' : datum.label","tickSize":5,"domainColor":"#222","tickColor":"#222","labelFontSize":15,"labelColor":"#333","labelPadding":3}},
   "y":{"field":"v","type":"quantitative","scale":{"domain":[-2.327,1.673],"nice":false,"zero":false},"axis":null},
   "strokeDash":{"field":"cond","type":"nominal","scale":{"domain":["Standard","Deviant"],"range":[[1,0],[6,3]]},"legend":null}}}
 ]},
 {"width":115,"height":1,"data":{"values":[{}]},"mark":{"type":"point","opacity":0}},
 {"width":161,"height":98,
  "layer":[
  {"data":{"values":[{}]},"mark":"rule","encoding":{"y":{"datum":0}}},
  {"data":{"values":[{}]},"mark":"rule","encoding":{"x":{"datum":555}}},
  {"data":{"values":[{}]},"mark":{"type":"text","text":"↑","fontSize":21,"color":"#222","font":"DejaVu Sans","fontWeight":"normal"},"encoding":{"x":{"datum":0},"y":{"datum":-1.75}}},
  {"data":{"name":"D_RM"},"transform":[{"fold":["Meaningful","Non-Meaningful"],"as":["cond","v"]}],"mark":"line",
   "encoding":{"x":{"field":"t","type":"quantitative","scale":{"domain":[-100,1900],"nice":false,"zero":false},"axis":{"values":[0,500,1000,1500],"format":"d","labelExpr":"datum.value == 0 ? '' : datum.label","tickSize":5,"domainColor":"#222","tickColor":"#222","labelFontSize":15,"labelColor":"#333","labelPadding":3}},
   "y":{"field":"v","type":"quantitative","scale":{"domain":[-2.327,1.673],"nice":false,"zero":false},"axis":null},
   "strokeDash":{"field":"cond","type":"nominal","scale":{"domain":["Meaningful","Non-Meaningful"],"range":[[1,0],[6,3]]},"legend":null}}}
 ]}
]
}
